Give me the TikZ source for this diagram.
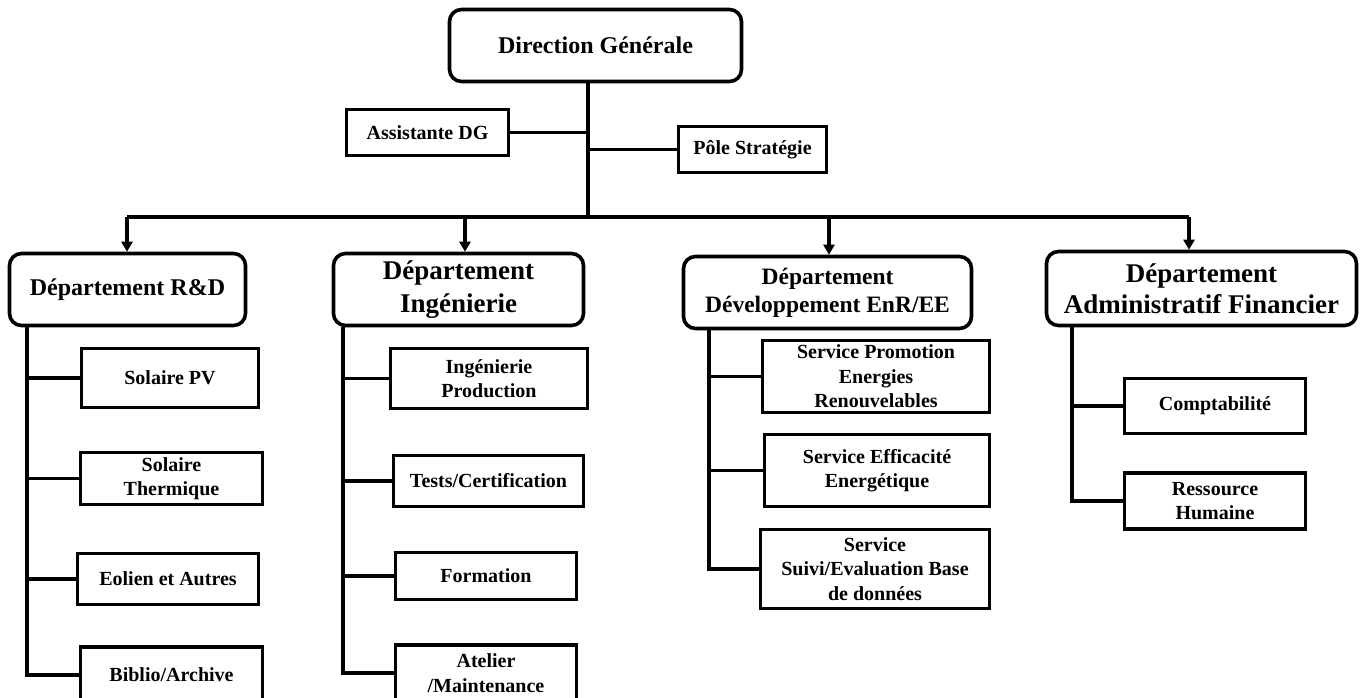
\documentclass[tikz,border=0pt]{standalone}
\usepackage{fontspec}
\setmainfont{Liberation Serif}
\usetikzlibrary{arrows.meta}
\begin{document}
\begin{tikzpicture}[x=1pt,y=-1pt,
  box/.style={draw, line width=3.6pt, align=center, inner sep=0pt, fill=white,
    font=\bfseries\fontsize{20}{24.5}\selectfont},
  dept/.style={box, rounded corners=12pt},
  link/.style={line width=3.2pt, line join=miter},
  arr/.style={line width=3.2pt, -{Triangle[width=11pt,length=10pt]}}
]
\useasboundingbox (0,0) rectangle (1365,697);

% top
\node[dept, minimum width=292pt, minimum height=72pt, font=\bfseries\fontsize{24}{29}\selectfont] (dg) at (595.5,45.5) {Direction Générale};
\node[box, minimum width=162pt, minimum height=46pt] (asst) at (427.5,132.5) {Assistante DG};
\node[box, minimum width=148pt, minimum height=46pt] (pole) at (752.5,149.5) {Pôle Stratégie};

% departments
\node[dept, minimum width=236pt, minimum height=72pt, font=\bfseries\fontsize{24}{29}\selectfont] (rd) at (127.5,289.5) {Département R\&D};
\node[dept, minimum width=250pt, minimum height=72pt, font=\bfseries\fontsize{27}{33}\selectfont] (ing) at (458.5,289.5) {Département\\Ingénierie};
\node[dept, minimum width=288pt, minimum height=72pt, font=\bfseries\fontsize{23.5}{28}\selectfont] (dev) at (827.5,292.5) {Département\\Développement EnR/EE};
\node[dept, minimum width=310pt, minimum height=74pt, font=\bfseries\fontsize{27}{31}\selectfont] (adm) at (1201.5,288.5) {Département\\Administratif Financier};

% R&D children
\node[box, minimum width=177pt, minimum height=59pt] (spv) at (170,378) {Solaire PV};
\node[box, minimum width=182pt, minimum height=52pt] (sth) at (171.5,478.5) {Solaire\\Thermique};
\node[box, minimum width=181pt, minimum height=51pt] (eol) at (168,579) {Eolien et Autres};
\node[box, minimum width=182pt, minimum height=56pt] (bib) at (171.5,675) {Biblio/Archive};

% Ingenierie children
\node[box, minimum width=197pt, minimum height=60pt] (ip) at (489,378.5) {Ingénierie\\Production};
\node[box, minimum width=190pt, minimum height=51pt] (tc) at (488.5,481) {Tests/Certification};
\node[box, minimum width=181pt, minimum height=47pt] (form) at (486,576) {Formation};
\node[box, minimum width=181pt, minimum height=56pt] (atel) at (486,673) {Atelier\\/Maintenance};

% Dev children
\node[box, minimum width=227pt, minimum height=72pt] (sp) at (876,376.5) {Service Promotion\\Energies\\Renouvelables};
\node[box, minimum width=225pt, minimum height=72pt] (se) at (877,470.5) {Service Efficacité\\Energétique};
\node[box, minimum width=229pt, minimum height=79pt] (ss) at (875,569) {Service\\Suivi/Evaluation Base\\de données};

% Admin children
\node[box, minimum width=181pt, minimum height=55pt] (compt) at (1215,406) {Comptabilité};
\node[box, minimum width=181pt, minimum height=56pt] (rh) at (1215,501) {Ressource\\Humaine};

% bus and trunk
\coordinate (bus) at (588,217);
\coordinate (aRD) at (127,217);
\coordinate (aING) at (465,217);
\coordinate (aDEV) at (829,217);
\coordinate (aADM) at (1189,217);
\draw[link] (dg.south -| bus) -- (bus);
\draw[link] (asst.east) -- (asst.east -| bus);
\draw[link] (pole.west -| bus) -- (pole.west);
\draw[link, line cap=square] (aRD) -- (aADM);
\draw[arr] (aRD) -- (aRD |- rd.north);
\draw[arr] (aING) -- (aING |- ing.north);
\draw[arr] (aDEV) -- (aDEV |- dev.north);
\draw[arr] (aADM) -- (aADM |- adm.north);

% department trunks
\coordinate (tRD) at (27,327);
\coordinate (tING) at (343,327);
\coordinate (tDEV) at (709,330);
\coordinate (tADM) at (1072,327);

\draw[link] (tRD) |- (bib.west);
\draw[link] (tRD |- spv.west) -- (spv.west);
\draw[link] (tRD |- sth.west) -- (sth.west);
\draw[link] (tRD |- eol.west) -- (eol.west);

\draw[link] (tING) |- (atel.west);
\draw[link] (tING |- ip.west) -- (ip.west);
\draw[link] (tING |- tc.west) -- (tc.west);
\draw[link] (tING |- form.west) -- (form.west);

\draw[link] (tDEV) |- (ss.west);
\draw[link] (tDEV |- sp.west) -- (sp.west);
\draw[link] (tDEV |- se.west) -- (se.west);

\draw[link] (tADM) |- (rh.west);
\draw[link] (tADM |- compt.west) -- (compt.west);
\end{tikzpicture}
\end{document}
